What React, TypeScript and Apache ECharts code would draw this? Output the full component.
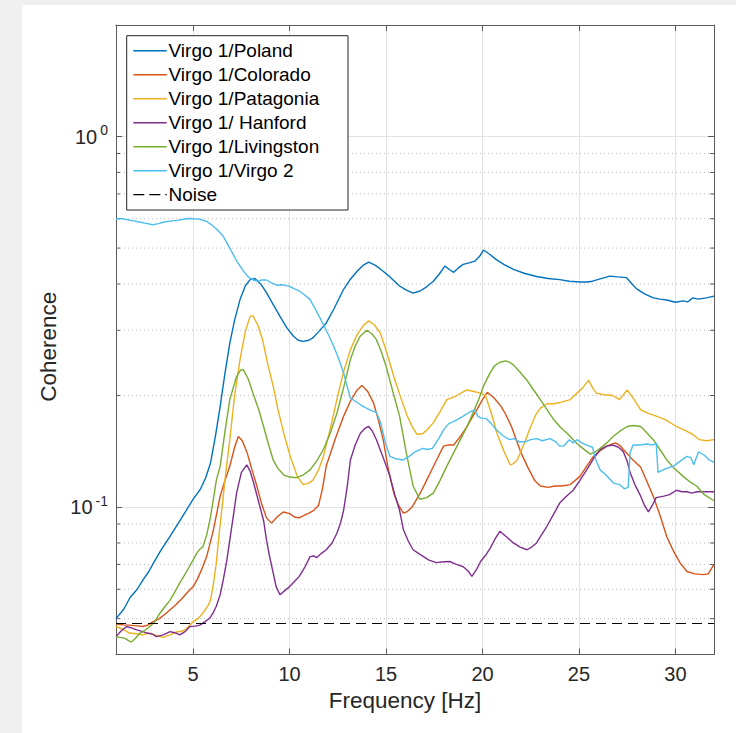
import React, { useEffect, useRef } from "react";
import * as echarts from "echarts";

// Coherence spectra, [frequency in Hz, coherence]
const polandData: number[][] = [
  [1, 0.05], [1.4, 0.053], [1.73, 0.057], [2.1, 0.06], [2.4, 0.0636], [2.7, 0.067], [2.94, 0.0706], [3.3, 0.076],
  [3.8, 0.0833], [4.2, 0.09], [4.66, 0.0983], [5.0, 0.105], [5.36, 0.1114], [5.65, 0.12], [5.9, 0.1315], [6.15, 0.155],
  [6.4, 0.187], [6.65, 0.23], [6.9, 0.277], [7.15, 0.32], [7.43, 0.363], [7.7, 0.395], [7.95, 0.411], [8.2, 0.414],
  [8.5, 0.4], [8.8, 0.379], [9.15, 0.352], [9.5, 0.327], [9.85, 0.305], [10.2, 0.289], [10.45, 0.282], [10.7, 0.28],
  [11.0, 0.282], [11.2, 0.286], [11.5, 0.297], [11.9, 0.314], [12.3, 0.343], [12.8, 0.387], [13.15, 0.412], [13.5, 0.433],
  [13.8, 0.449], [14.1, 0.458], [14.45, 0.449], [14.85, 0.433], [15.2, 0.418], [15.7, 0.395], [16.05, 0.385], [16.4, 0.378],
  [16.76, 0.383], [17.1, 0.393], [17.45, 0.407], [17.75, 0.425], [18.05, 0.447], [18.3, 0.437], [18.5, 0.43], [18.75, 0.442],
  [19.0, 0.452], [19.3, 0.456], [19.6, 0.461], [19.85, 0.475], [20.05, 0.494], [20.35, 0.482], [20.7, 0.466], [21.1, 0.452],
  [21.6, 0.438], [22.2, 0.427], [22.8, 0.419], [23.4, 0.414], [24.0, 0.411], [24.5, 0.407], [25.05, 0.405], [25.4, 0.405],
  [25.7, 0.407], [26.1, 0.413], [26.6, 0.42], [27.0, 0.418], [27.47, 0.416], [27.75, 0.4], [27.99, 0.388], [28.4, 0.376],
  [28.85, 0.367], [29.2, 0.364], [29.55, 0.362], [30.0, 0.357], [30.4, 0.36], [30.65, 0.358], [30.9, 0.367], [31.2, 0.364],
  [31.6, 0.367], [32, 0.371],
];

const coloradoData: number[][] = [
  [1, 0.0483], [1.4, 0.0481], [1.7, 0.048], [2.1, 0.0478], [2.4, 0.0476], [2.65, 0.048], [2.9, 0.049], [3.25, 0.05],
  [3.6, 0.0517], [4.1, 0.0545], [4.4, 0.0565], [4.66, 0.0585], [5.0, 0.061], [5.2, 0.0636], [5.45, 0.068], [5.7, 0.0735],
  [6.05, 0.0868], [6.4, 0.107], [6.65, 0.118], [6.9, 0.129], [7.15, 0.145], [7.34, 0.155], [7.55, 0.151], [7.8, 0.14],
  [8.05, 0.126], [8.3, 0.114], [8.55, 0.102], [8.8, 0.0935], [9.06, 0.0905], [9.35, 0.094], [9.67, 0.097], [10.0, 0.096],
  [10.25, 0.094], [10.5, 0.0935], [10.75, 0.095], [11.0, 0.0963], [11.25, 0.098], [11.5, 0.101], [11.7, 0.112], [11.9, 0.129],
  [12.35, 0.152], [12.8, 0.176], [13.15, 0.193], [13.5, 0.207], [13.75, 0.213], [14.05, 0.205], [14.35, 0.191], [14.6, 0.172],
  [14.85, 0.152], [15.1, 0.128], [15.4, 0.109], [15.65, 0.101], [15.9, 0.0963], [16.07, 0.097], [16.35, 0.1], [16.77, 0.109],
  [17.1, 0.118], [17.3, 0.124], [17.65, 0.135], [17.98, 0.146], [18.2, 0.147], [18.5, 0.147], [18.85, 0.155], [19.2, 0.165],
  [19.45, 0.174], [19.7, 0.183], [20.0, 0.195], [20.25, 0.204], [20.6, 0.197], [20.96, 0.187], [21.2, 0.178], [21.5, 0.165],
  [21.75, 0.152], [22.0, 0.14], [22.35, 0.128], [22.7, 0.118], [23.0, 0.114], [23.4, 0.113], [23.75, 0.114], [24.1, 0.114],
  [24.55, 0.115], [25.05, 0.121], [25.4, 0.129], [25.75, 0.137], [26.1, 0.142], [26.45, 0.146], [26.87, 0.149], [27.1, 0.147],
  [27.3, 0.143], [27.8, 0.134], [28.2, 0.128], [28.5, 0.118], [28.85, 0.107], [29.2, 0.095], [29.55, 0.0833], [29.9, 0.076],
  [30.25, 0.0706], [30.6, 0.067], [31.0, 0.066], [31.45, 0.0657], [31.7, 0.066], [32, 0.07],
];

const patagoniaData: number[][] = [
  [1, 0.0476], [1.35, 0.0468], [1.7, 0.0457], [2.05, 0.0455], [2.4, 0.0452], [2.65, 0.0456], [2.9, 0.0454], [3.2, 0.0448],
  [3.45, 0.0445], [3.8, 0.0452], [4.14, 0.046], [4.4, 0.0462], [4.66, 0.047], [5.0, 0.049], [5.25, 0.05], [5.5, 0.0517],
  [5.75, 0.054], [5.9, 0.056], [6.05, 0.062], [6.2, 0.0706], [6.35, 0.085], [6.5, 0.1], [6.7, 0.125], [6.9, 0.152],
  [7.15, 0.2], [7.43, 0.25], [7.7, 0.297], [7.95, 0.327], [8.1, 0.328], [8.35, 0.31], [8.6, 0.283], [8.85, 0.245],
  [9.15, 0.212], [9.4, 0.183], [9.7, 0.158], [10.05, 0.136], [10.4, 0.121], [10.7, 0.115], [11.0, 0.116], [11.2, 0.118],
  [11.5, 0.126], [11.75, 0.137], [12.1, 0.162], [12.45, 0.195], [12.8, 0.232], [13.15, 0.266], [13.5, 0.292], [13.8, 0.308],
  [14.1, 0.318], [14.4, 0.31], [14.7, 0.295], [15.05, 0.26], [15.4, 0.225], [15.75, 0.198], [16.1, 0.176], [16.35, 0.165],
  [16.6, 0.157], [16.9, 0.158], [17.1, 0.161], [17.45, 0.169], [17.8, 0.181], [18.15, 0.195], [18.4, 0.197], [18.67, 0.2],
  [18.95, 0.204], [19.2, 0.207], [19.55, 0.205], [19.9, 0.203], [20.15, 0.2], [20.45, 0.18], [20.75, 0.158], [21.1, 0.142],
  [21.43, 0.13], [21.6, 0.131], [21.8, 0.134], [22.15, 0.148], [22.5, 0.165], [22.75, 0.177], [23.0, 0.185], [23.35, 0.19],
  [23.7, 0.19], [24.1, 0.192], [24.55, 0.195], [24.9, 0.203], [25.2, 0.21], [25.5, 0.22], [25.7, 0.21], [25.9, 0.203],
  [26.3, 0.201], [26.75, 0.2], [27.1, 0.195], [27.5, 0.207], [27.8, 0.197], [28.2, 0.183], [28.6, 0.179], [29.0, 0.176],
  [29.5, 0.172], [30.05, 0.165], [30.5, 0.161], [30.9, 0.157], [31.25, 0.152], [31.6, 0.151], [32, 0.152],
];

const hanfordData: number[][] = [
  [1, 0.0447], [1.25, 0.0462], [1.55, 0.0476], [1.8, 0.0472], [2.07, 0.0466], [2.35, 0.0462], [2.6, 0.0457], [2.85, 0.0455],
  [3.1, 0.0447], [3.45, 0.0452], [3.8, 0.0461], [4.05, 0.0458], [4.3, 0.0452], [4.6, 0.0462], [4.84, 0.0476], [5.1, 0.0477],
  [5.35, 0.048], [5.6, 0.049], [5.87, 0.0502], [6.05, 0.052], [6.2, 0.054], [6.4, 0.058], [6.56, 0.0636], [6.75, 0.072],
  [6.9, 0.0816], [7.1, 0.096], [7.25, 0.109], [7.5, 0.124], [7.78, 0.13], [7.95, 0.125], [8.1, 0.118], [8.4, 0.103],
  [8.65, 0.092], [8.8, 0.0816], [8.95, 0.074], [9.15, 0.0663], [9.3, 0.061], [9.5, 0.058], [9.75, 0.0595], [10.0, 0.061],
  [10.25, 0.063], [10.5, 0.065], [10.8, 0.069], [11.06, 0.0735], [11.25, 0.0738], [11.4, 0.073], [11.65, 0.075], [11.9, 0.0767],
  [12.2, 0.08], [12.45, 0.085], [12.65, 0.091], [12.8, 0.098], [13.0, 0.115], [13.15, 0.134], [13.4, 0.147], [13.66, 0.158],
  [13.9, 0.163], [14.1, 0.165], [14.3, 0.16], [14.5, 0.152], [14.85, 0.136], [15.2, 0.121], [15.45, 0.108], [15.7, 0.098],
  [15.9, 0.0868], [16.15, 0.081], [16.4, 0.0767], [16.76, 0.0745], [17.2, 0.072], [17.6, 0.0708], [18.0, 0.0712], [18.3, 0.0713],
  [18.65, 0.07], [19.0, 0.069], [19.25, 0.0672], [19.45, 0.065], [19.7, 0.068], [19.9, 0.0713], [20.15, 0.074], [20.4, 0.0775],
  [20.65, 0.082], [20.9, 0.086], [21.25, 0.083], [21.6, 0.08], [21.95, 0.078], [22.3, 0.0767], [22.55, 0.078], [22.8, 0.08],
  [23.05, 0.084], [23.33, 0.0886], [23.65, 0.095], [24.0, 0.1025], [24.35, 0.107], [24.7, 0.111], [25.05, 0.118], [25.4, 0.126],
  [25.75, 0.135], [26.1, 0.143], [26.45, 0.146], [26.77, 0.147], [27.05, 0.145], [27.3, 0.141], [27.5, 0.133], [27.65, 0.124],
  [27.9, 0.115], [28.2, 0.107], [28.4, 0.101], [28.6, 0.097], [28.8, 0.101], [29.0, 0.106], [29.4, 0.107], [29.7, 0.108],
  [30.05, 0.111], [30.35, 0.11], [30.6, 0.11], [30.85, 0.109], [31.1, 0.11], [31.5, 0.11], [32, 0.11],
];

const livingstonData: number[][] = [
  [1, 0.0447], [1.2, 0.0445], [1.45, 0.0443], [1.65, 0.0436], [1.8, 0.0432], [2.0, 0.0442], [2.24, 0.0457], [2.5, 0.0465],
  [2.76, 0.0476], [3.0, 0.049], [3.28, 0.0517], [3.55, 0.054], [3.8, 0.056], [4.05, 0.059], [4.3, 0.0623], [4.55, 0.0655],
  [4.8, 0.069], [5.0, 0.072], [5.18, 0.075], [5.35, 0.077], [5.5, 0.078], [5.7, 0.084], [5.87, 0.0924], [6.05, 0.105],
  [6.2, 0.118], [6.4, 0.129], [6.65, 0.16], [6.9, 0.195], [7.25, 0.225], [7.45, 0.234], [7.6, 0.235], [7.85, 0.222],
  [8.1, 0.203], [8.4, 0.183], [8.65, 0.165], [8.9, 0.148], [9.15, 0.134], [9.4, 0.127], [9.7, 0.122], [10.0, 0.1205],
  [10.35, 0.12], [10.7, 0.122], [11.06, 0.126], [11.4, 0.133], [11.75, 0.143], [12.1, 0.158], [12.45, 0.179], [12.8, 0.21],
  [13.15, 0.25], [13.4, 0.272], [13.66, 0.289], [14.0, 0.3], [14.25, 0.294], [14.5, 0.283], [14.75, 0.263], [15.0, 0.24],
  [15.35, 0.205], [15.7, 0.176], [16.05, 0.14], [16.4, 0.114], [16.75, 0.105], [17.1, 0.106], [17.45, 0.109], [17.8, 0.118],
  [18.15, 0.129], [18.5, 0.14], [18.85, 0.152], [19.2, 0.165], [19.5, 0.179], [19.8, 0.195], [20.05, 0.212], [20.35, 0.228],
  [20.6, 0.24], [20.9, 0.246], [21.2, 0.248], [21.4, 0.246], [21.6, 0.242], [21.95, 0.231], [22.3, 0.22], [22.65, 0.207],
  [23.0, 0.195], [23.35, 0.183], [23.7, 0.172], [24.05, 0.164], [24.4, 0.158], [24.75, 0.151], [25.05, 0.146], [25.35, 0.142],
  [25.6, 0.139], [25.85, 0.141], [26.1, 0.144], [26.45, 0.149], [26.77, 0.155], [27.1, 0.16], [27.5, 0.165], [27.85, 0.166],
  [28.2, 0.165], [28.5, 0.159], [28.85, 0.152], [29.2, 0.143], [29.55, 0.134], [29.95, 0.127], [30.4, 0.121], [30.75, 0.117],
  [31.1, 0.114], [31.5, 0.108], [32, 0.104],
];

const virgo2Data: number[][] = [
  [1, 0.6], [1.3, 0.601], [1.6, 0.596], [1.9, 0.592], [2.2, 0.588], [2.5, 0.584], [2.9, 0.578], [3.2, 0.582],
  [3.5, 0.588], [3.9, 0.592], [4.2, 0.594], [4.5, 0.598], [4.75, 0.601], [5.0, 0.6], [5.3, 0.599], [5.7, 0.59],
  [5.95, 0.578], [6.25, 0.56], [6.56, 0.538], [6.9, 0.5], [7.25, 0.462], [7.6, 0.434], [7.85, 0.418], [8.1, 0.41],
  [8.35, 0.407], [8.55, 0.41], [8.8, 0.41], [9.05, 0.403], [9.33, 0.397], [9.6, 0.398], [9.85, 0.396], [10.0, 0.394],
  [10.25, 0.388], [10.5, 0.383], [10.8, 0.373], [11.06, 0.363], [11.3, 0.345], [11.6, 0.322], [11.9, 0.3], [12.2, 0.278],
  [12.5, 0.255], [12.8, 0.23], [13.0, 0.21], [13.15, 0.197], [13.4, 0.193], [13.6, 0.19], [13.8, 0.187], [14.15, 0.183],
  [14.5, 0.18], [14.7, 0.17], [14.85, 0.158], [15.0, 0.147], [15.2, 0.137], [15.5, 0.135], [15.9, 0.134], [16.2, 0.137],
  [16.5, 0.141], [16.9, 0.144], [17.15, 0.143], [17.4, 0.144], [17.7, 0.152], [18.0, 0.162], [18.25, 0.168], [18.5, 0.17],
  [18.75, 0.173], [19.0, 0.176], [19.3, 0.18], [19.6, 0.183], [19.75, 0.176], [19.9, 0.174], [20.2, 0.173], [20.45, 0.168],
  [20.7, 0.162], [21.05, 0.156], [21.4, 0.152], [21.65, 0.153], [21.9, 0.15], [22.2, 0.15], [22.5, 0.152], [22.8, 0.153],
  [23.1, 0.151], [23.5, 0.153], [23.8, 0.15], [24.0, 0.146], [24.2, 0.146], [24.5, 0.152], [24.7, 0.149], [24.9, 0.152],
  [25.15, 0.149], [25.4, 0.147], [25.7, 0.145], [25.9, 0.133], [26.1, 0.126], [26.4, 0.122], [26.8, 0.116], [27.1, 0.115],
  [27.35, 0.112], [27.55, 0.113], [27.65, 0.14], [27.8, 0.147], [28.2, 0.147], [28.5, 0.148], [28.85, 0.147], [29.0, 0.149],
  [29.1, 0.124], [29.5, 0.127], [29.9, 0.129], [30.25, 0.133], [30.6, 0.137], [30.8, 0.136], [30.95, 0.13], [31.2, 0.141],
  [31.5, 0.138], [31.75, 0.134], [32, 0.132],
];

const noiseLevel = 0.0485;
const noiseData: number[][] = [[1, noiseLevel], [32, noiseLevel]];

const seriesNames = [
  "Virgo 1/Poland",
  "Virgo 1/Colorado",
  "Virgo 1/Patagonia",
  "Virgo 1/ Hanford",
  "Virgo 1/Livingston",
  "Virgo 1/Virgo 2",
  "Noise",
];
const seriesColors = ["#0072BD", "#D95319", "#EDB120", "#7E2F8E", "#77AC30", "#4DBEEE", "#000000"];
const seriesData = [polandData, coloradoData, patagoniaData, hanfordData, livingstonData, virgo2Data, noiseData];

// Minor decade ticks on the log axis (dotted grid)
const minorTicks = [0.05, 0.06, 0.07, 0.08, 0.09, 0.2, 0.3, 0.4, 0.5, 0.6, 0.7, 0.8, 0.9];

const xLabel = "Frequency [Hz]";
const yLabel = "Coherence";

const FONT = '"Liberation Sans", Arial, Helvetica, sans-serif';
const AXIS_COLOR = "#5a5a5a";
const TEXT_COLOR = "#262626";
const NOISE_DASH = [10, 6];

// Legend box layout (chart pixels)
const LEGEND_BOX = { x: 104.7, y: 30.7, width: 221.3, height: 174.3 };
const LEGEND_ROW0 = 45.7;
const LEGEND_ROW_STEP = 24;
const LEGEND_Z = 10;

export default function App() {
  const ref = useRef<HTMLDivElement>(null);

  useEffect(() => {
    if (!ref.current) return;
    const chart = echarts.init(ref.current, undefined, { renderer: "svg" });

    const isNoise = (i: number) => i === seriesData.length - 1;

    const lineSeries = seriesData.map((data, i) => ({
      name: seriesNames[i],
      type: "line",
      data,
      showSymbol: false,
      symbol: "none",
      lineStyle: isNoise(i)
        ? { color: seriesColors[i], width: 1.2, type: NOISE_DASH }
        : { color: seriesColors[i], width: 1.4 },
      itemStyle: { color: seriesColors[i] },
      emphasis: { disabled: true },
      silent: true,
    }));

    const minorSeries = {
      name: "minor",
      type: "custom",
      silent: true,
      z: 1,
      data: minorTicks.map((v) => [1, v]),
      renderItem: (params: any, api: any) => {
        const cs = params.coordSys;
        const y = api.coord([api.value(0), api.value(1)])[1];
        const x0 = cs.x;
        const x1 = cs.x + cs.width;
        return {
          type: "group",
          children: [
            { type: "line", shape: { x1: x0, y1: y, x2: x1, y2: y }, style: { stroke: "#bdbdbd", lineWidth: 1, lineDash: [1, 3] } },
            { type: "line", shape: { x1: x0, y1: y, x2: x0 + 4, y2: y }, style: { stroke: AXIS_COLOR, lineWidth: 1 } },
            { type: "line", shape: { x1: x1 - 4, y1: y, x2: x1, y2: y }, style: { stroke: AXIS_COLOR, lineWidth: 1 } },
          ],
        };
      },
    };

    // Legend drawn as line samples + labels inside a framed box
    const legendElements: any[] = [
      {
        type: "rect",
        z: LEGEND_Z,
        shape: { ...LEGEND_BOX },
        style: { fill: "#ffffff", stroke: "#262626", lineWidth: 1 },
      },
    ];
    seriesNames.forEach((name, i) => {
      const cy = LEGEND_ROW0 + i * LEGEND_ROW_STEP;
      legendElements.push({
        type: "line",
        z: LEGEND_Z + 1,
        shape: { x1: 111.3, y1: cy, x2: 144.7, y2: cy },
        style: isNoise(i)
          ? { stroke: seriesColors[i], lineWidth: 1.2, lineDash: [11, 5] }
          : { stroke: seriesColors[i], lineWidth: 1.4 },
      });
      legendElements.push({
        type: "text",
        z: LEGEND_Z + 1,
        x: 146.5,
        y: cy,
        style: {
          text: name,
          font: `19px ${FONT}`,
          fill: "#000000",
          textAlign: "left",
          textVerticalAlign: "middle",
          align: "left",
          verticalAlign: "middle",
        },
      });
    });

    const axisLine = { show: true, lineStyle: { color: AXIS_COLOR, width: 1 } };
    const tick = { show: true, inside: true, length: 6, lineStyle: { color: AXIS_COLOR, width: 1 } };

    chart.setOption({
      animation: false,
      backgroundColor: "#ffffff",
      grid: { left: 94, top: 20, width: 598, height: 629.5, containLabel: false },
      xAxis: [
        {
          type: "value",
          min: 1,
          max: 32,
          position: "bottom",
          axisLine,
          axisTick: tick,
          axisLabel: {
            color: TEXT_COLOR,
            fontSize: 20,
            fontFamily: FONT,
            margin: 9,
            showMinLabel: false,
            showMaxLabel: false,
            formatter: (v: number) => (Math.abs(v % 5) < 1e-9 ? String(v) : ""),
          },
          splitLine: { show: true, lineStyle: { color: "#e3e3e3", width: 1 } },
        },
        {
          type: "value",
          min: 1,
          max: 32,
          position: "top",
          axisLine,
          axisTick: tick,
          axisLabel: { show: false },
          splitLine: { show: false },
        },
      ],
      yAxis: [
        {
          type: "log",
          logBase: 10,
          min: 0.04,
          max: 2,
          position: "left",
          axisLine,
          axisTick: tick,
          axisLabel: {
            margin: 8,
            formatter: (v: number) => {
              const e = Math.log10(v);
              const r = Math.round(e);
              if (Math.abs(e - r) > 1e-6) return "";
              return `{b|10}{s|${r}}`;
            },
            rich: {
              b: { fontSize: 20, fontFamily: FONT, color: TEXT_COLOR },
              s: { fontSize: 14, fontFamily: FONT, color: TEXT_COLOR, padding: [0, 0, 13, 3] },
            },
          },
          splitLine: { show: true, lineStyle: { color: "#e3e3e3", width: 1 } },
        },
        {
          type: "log",
          logBase: 10,
          min: 0.04,
          max: 2,
          position: "right",
          axisLine,
          axisTick: tick,
          axisLabel: { show: false },
          splitLine: { show: false },
        },
      ],
      graphic: [
        ...legendElements,
        {
          type: "text",
          x: 383,
          y: 695.5,
          style: {
            text: xLabel,
            font: `22.5px ${FONT}`,
            fill: TEXT_COLOR,
            textAlign: "center",
            textVerticalAlign: "middle",
            align: "center",
            verticalAlign: "middle",
          },
        },
        {
          type: "text",
          x: 26.5,
          y: 341.7,
          rotation: Math.PI / 2,
          style: {
            text: yLabel,
            font: `22.5px ${FONT}`,
            fill: TEXT_COLOR,
            textAlign: "center",
            textVerticalAlign: "middle",
            align: "center",
            verticalAlign: "middle",
          },
        },
      ],
      series: [minorSeries, ...lineSeries],
    });

    return () => chart.dispose();
  }, []);

  return (
    <div style={{ position: "fixed", left: 0, top: 0, width: 736, height: 733, background: "#f0f0f0", overflow: "hidden" }}>
      <div ref={ref} style={{ position: "absolute", left: 22, top: 5, width: 714, height: 728, background: "#ffffff" }} />
    </div>
  );
}
